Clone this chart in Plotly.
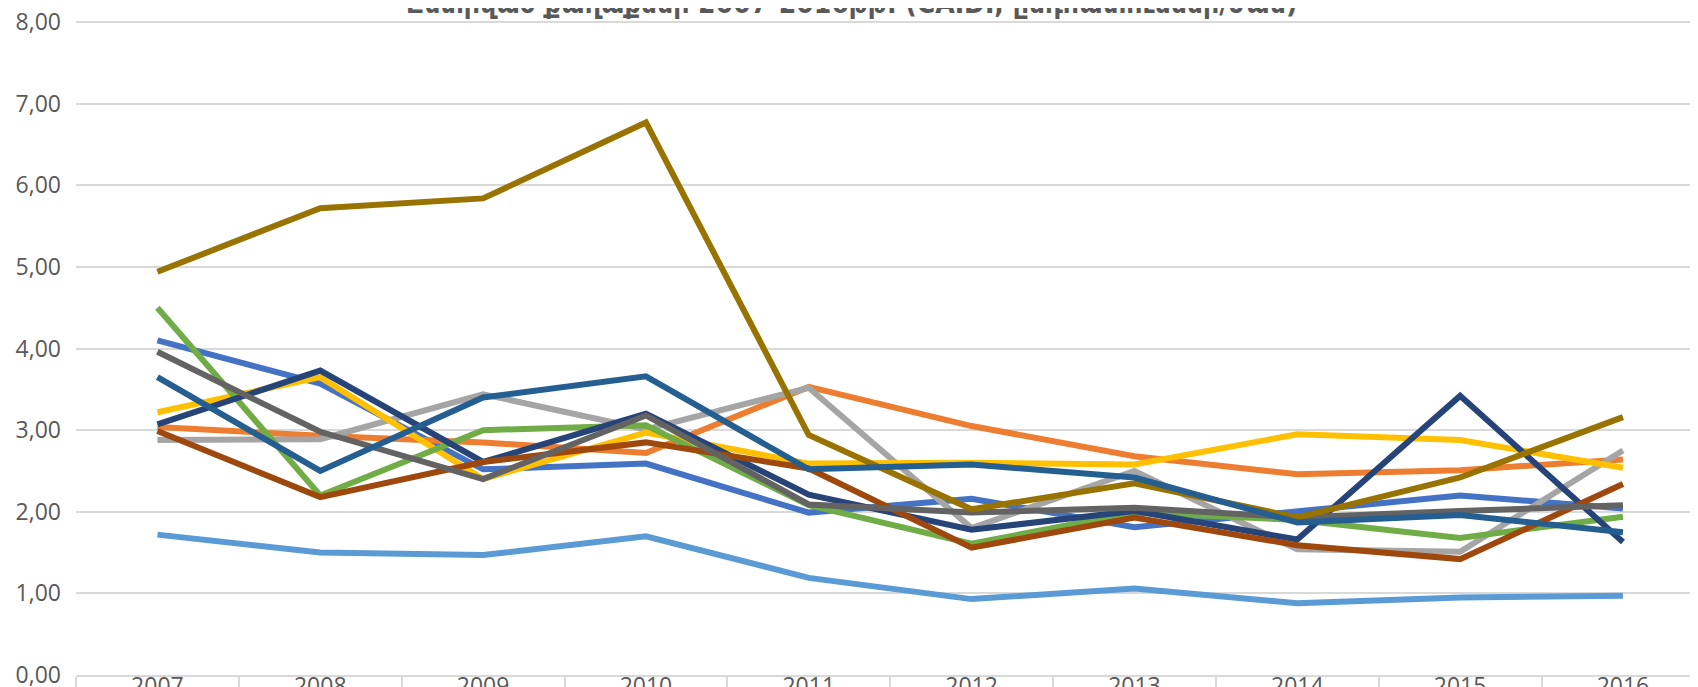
import plotly.graph_objects as go

years = ["2007", "2008", "2009", "2010", "2011", "2012", "2013", "2014", "2015", "2016"]
y_ticks = [0, 1, 2, 3, 4, 5, 6, 7, 8]

s_blue = [4.10, 3.57, 2.52, 2.59, 1.99, 2.16, 1.81, 2.00, 2.20, 2.04]
s_orange = [3.04, 2.93, 2.85, 2.72, 3.53, 3.05, 2.68, 2.46, 2.51, 2.64]
s_gray = [2.88, 2.89, 3.44, 3.01, 3.52, 1.80, 2.50, 1.54, 1.51, 2.75]
s_yellow = [3.22, 3.65, 2.40, 2.97, 2.59, 2.60, 2.58, 2.95, 2.88, 2.54]
s_lightblue = [1.72, 1.50, 1.47, 1.70, 1.19, 0.93, 1.06, 0.88, 0.95, 0.97]
s_green = [4.50, 2.20, 3.00, 3.06, 2.08, 1.61, 1.99, 1.90, 1.68, 1.94]
s_darkblue = [3.07, 3.73, 2.61, 3.20, 2.21, 1.78, 2.01, 1.66, 3.42, 1.63]
s_brown = [2.99, 2.18, 2.61, 2.85, 2.53, 1.56, 1.93, 1.59, 1.42, 2.34]
s_darkgray = [3.96, 2.98, 2.40, 3.18, 2.09, 1.99, 2.05, 1.93, 2.01, 2.08]
s_olive = [4.94, 5.72, 5.84, 6.77, 2.94, 2.03, 2.35, 1.93, 2.42, 3.16]
s_medblue = [3.65, 2.50, 3.40, 3.66, 2.52, 2.58, 2.42, 1.87, 1.96, 1.75]

series = [
    ("Շարք 1", s_blue, "#4472C4"),
    ("Շարք 2", s_orange, "#ED7D31"),
    ("Շարք 3", s_gray, "#A5A5A5"),
    ("Շարք 4", s_yellow, "#FFC000"),
    ("Շարք 5", s_lightblue, "#5B9BD5"),
    ("Շարք 6", s_green, "#70AD47"),
    ("Շարք 7", s_darkblue, "#264478"),
    ("Շարք 8", s_brown, "#9E480E"),
    ("Շարք 9", s_darkgray, "#636363"),
    ("Շարք 10", s_olive, "#997300"),
    ("Շարք 11", s_medblue, "#255E91"),
]

title_text = "Ընտրված քաղաքներ 2007-2016թթ. (CAIDI, ընդհատումներ/ժամ)"

fig = go.Figure()
for name, vals, col in series:
    fig.add_trace(go.Scatter(
        x=years, y=vals, name=name, mode="lines",
        line=dict(color=col, width=6),
    ))

fig.add_annotation(
    text="<b>" + title_text + "</b>",
    xref="paper", yref="paper", x=0.476, y=1,
    xanchor="center", yanchor="middle", yshift=15,
    showarrow=False,
    font=dict(family="DejaVu Sans Condensed, DejaVu Sans", size=28, color="#595959"),
)

fig.update_layout(
    width=1698, height=687,
    margin=dict(l=68, r=0, t=10, b=20, autoexpand=False),
    paper_bgcolor="white", plot_bgcolor="white",
    showlegend=False,
    separators=",.",
    font=dict(family="Open Sans", color="#595959"),
)
fig.update_xaxes(
    type="category",
    range=[-0.5, 9.51],
    automargin=False,
    showgrid=False,
    showline=True, linecolor="#D9D9D9", linewidth=1.5,
    ticks="outside", tickson="boundaries", ticklen=16, tickcolor="#D9D9D9", tickwidth=1.5,
    ticklabelstandoff=-10,
    ticklabeloverflow="allow",
    tickfont=dict(size=23, color="#595959"),
)
fig.update_yaxes(
    range=[0, 8.05], tickmode="array", tickvals=y_ticks, tickformat=".2f",
    automargin=False,
    showgrid=True, gridcolor="#D9D9D9", gridwidth=1.5,
    zeroline=False, showline=False,
    ticklabelstandoff=14,
    ticklabeloverflow="allow",
    tickfont=dict(size=23, color="#595959"),
)

fig.write_html("out.html")
